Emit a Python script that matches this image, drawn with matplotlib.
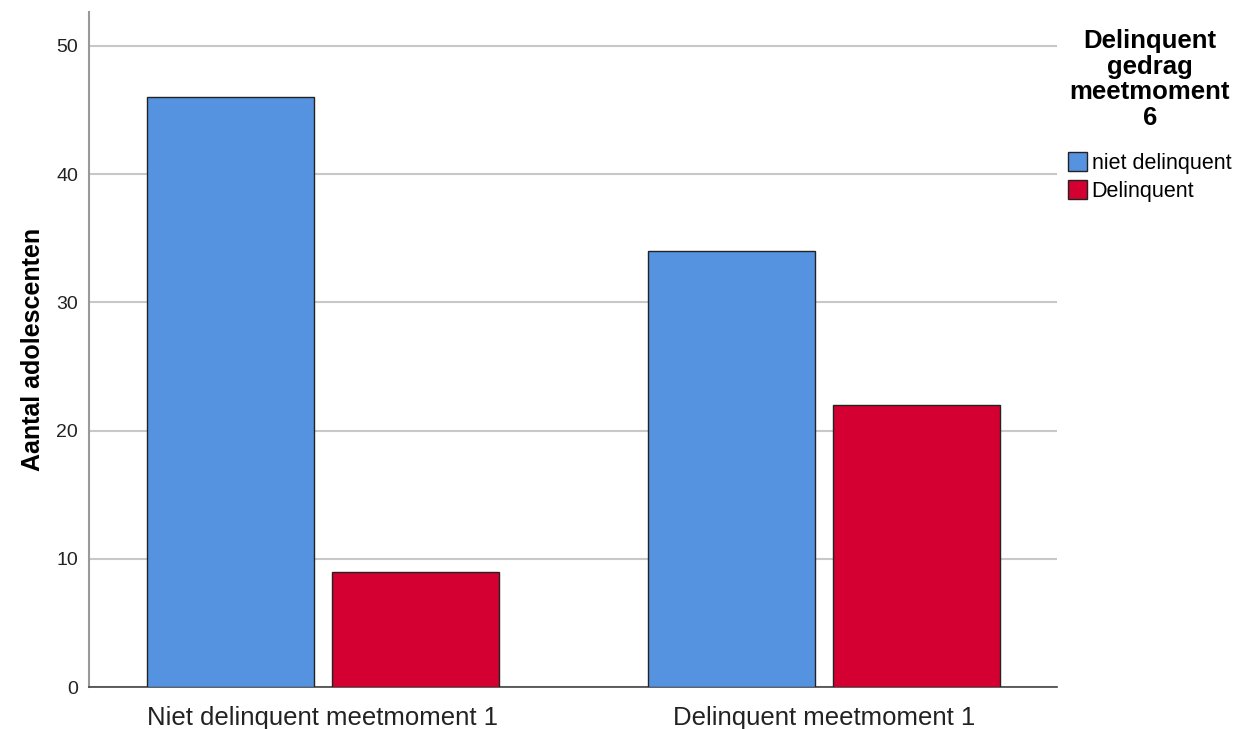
import matplotlib.pyplot as plt
import numpy as np

plt.rcParams['font.family'] = ['Liberation Sans', 'DejaVu Sans']

categories = ['Niet delinquent meetmoment 1', 'Delinquent meetmoment 1']
series_names = ['niet delinquent', 'Delinquent']
niet_delinquent = [46, 34]
delinquent = [9, 22]

blue = '#5593e1'
red = '#d50032'

fig = plt.figure(figsize=(12.47, 7.29), dpi=100)
ax = fig.add_axes([89 / 1247, 42 / 729, 968 / 1247, 675 / 729])

x = np.arange(len(categories))
w = 0.333
off = 0.1846
b1 = ax.bar(x - off, niet_delinquent, w, color=blue, edgecolor='#222222', linewidth=1, zorder=3, label=series_names[0])
b2 = ax.bar(x + off, delinquent, w, color=red, edgecolor='#222222', linewidth=1, zorder=3, label=series_names[1])

ax.set_xlim(-0.467, 1.465)
ax.set_ylim(0, 52.65)
ax.set_yticks([0, 10, 20, 30, 40, 50])
ax.grid(axis='y', color='#c8c8c8', linewidth=1.5, zorder=0)
ax.set_xticks(x)
ax.set_xticklabels(categories, fontsize=18.5, color='#222222')
ax.tick_params(axis='x', length=0, pad=14)
ax.tick_params(axis='y', length=0, labelsize=14, pad=8, labelcolor='#222222')
ax.set_ylabel('Aantal adolescenten', fontsize=18, fontweight='bold', labelpad=8)

ax.spines['top'].set_visible(False)
ax.spines['right'].set_visible(False)
ax.spines['left'].set_color('#999999')
ax.spines['left'].set_linewidth(1.5)
ax.spines['bottom'].set_color('#444444')
ax.spines['bottom'].set_linewidth(1.2)

leg = fig.legend(handles=[b1, b2], labels=series_names, title='Delinquent\ngedrag\nmeetmoment\n6',
                 loc='upper left', bbox_to_anchor=(1068 / 1247, 1 - 29 / 729), frameon=False,
                 fontsize=15.5, title_fontsize=18.5, handlelength=0.9, handleheight=1.0,
                 handletextpad=0.2, labelspacing=0.28, borderaxespad=0, borderpad=0)
leg.get_title().set_fontweight('bold')
leg.get_title().set_multialignment('center')
leg.get_title().set_linespacing(1.08)
leg._legend_box.align = 'center'
leg._legend_box.sep = 16
for h in leg.legend_handles:
    h.set_edgecolor('#222222')

fig.savefig('out.png', dpi=100)
